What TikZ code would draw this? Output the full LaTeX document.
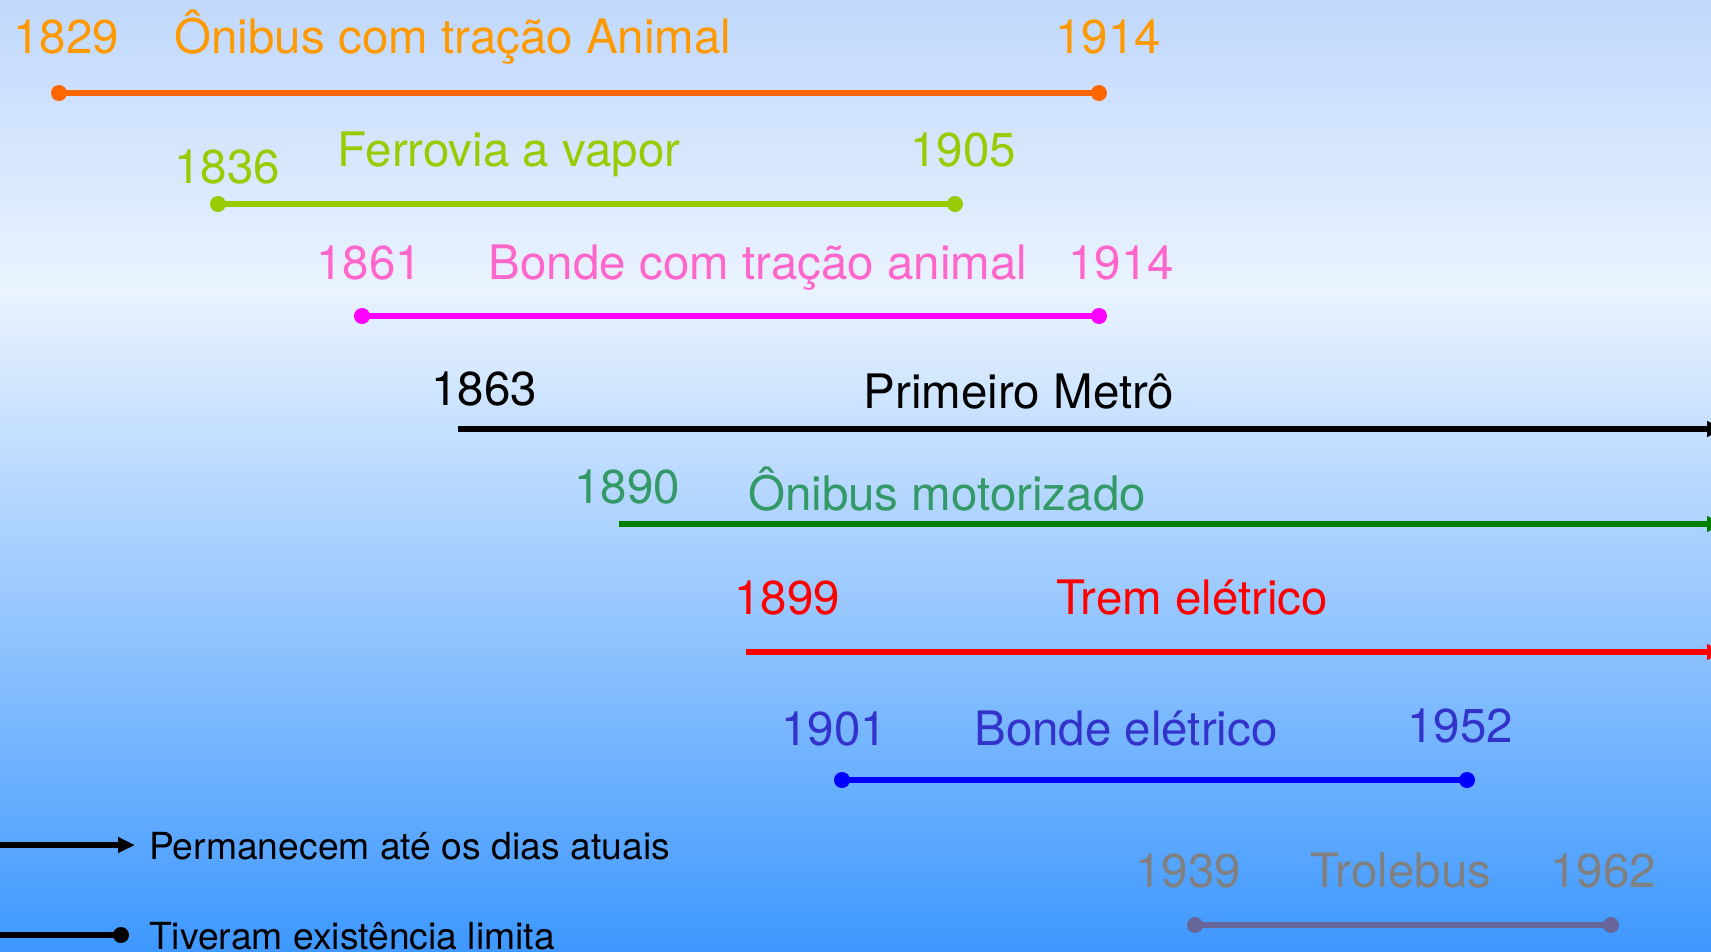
\documentclass[tikz,border=0pt]{standalone}
\usepackage{fontspec}
\setmainfont{TeX Gyre Heros}
\usetikzlibrary{arrows.meta}
\definecolor{bgtop}{RGB}{192,216,252}
\definecolor{bgmid}{RGB}{234,243,255}
\definecolor{bgbot}{RGB}{62,152,255}
\definecolor{oranget}{HTML}{FF9900}
\definecolor{orangel}{HTML}{FF6600}
\definecolor{lime}{HTML}{99CC00}
\definecolor{pinkt}{HTML}{FF66CC}
\definecolor{pinkl}{HTML}{FF00FF}
\definecolor{greent}{HTML}{339966}
\definecolor{greenl}{HTML}{008000}
\definecolor{redc}{HTML}{FF0000}
\definecolor{bluet}{HTML}{3333CC}
\definecolor{bluel}{HTML}{0000FF}
\definecolor{grayt}{HTML}{808080}
\definecolor{grayl}{HTML}{666699}
\begin{document}
\begin{tikzpicture}[x=1pt,y=-1pt,
  lbl/.style={anchor=base, inner sep=0pt, font=\fontsize{47.5}{52}\selectfont},
  leg/.style={anchor=base west, inner sep=0pt, font=\fontsize{37.3}{40}\selectfont},
  dotn/.style={circle, inner sep=0pt, minimum size=16pt},
  tl/.style={line width=5.5pt},
  fwd/.style={tl, -{Triangle[length=17pt,width=15pt]}}]
\useasboundingbox (0,0) rectangle (1711,951);
\clip (0,0) rectangle (1711,951);
\fill[top color=bgtop, bottom color=bgmid] (0,0) rectangle (1711,290);
\fill[top color=bgmid, bottom color=bgbot] (0,289.5) rectangle (1711,951);

% Row 1
\node[lbl, text=oranget] (y1a) at (66,53) {1829};
\node[lbl, text=oranget] (n1) at (453,53) {Ônibus com tração Animal};
\node[lbl, text=oranget] (y1b) at (1108,53) {1914};
\node[dotn, fill=orangel] (d1a) at (59,93) {};
\node[dotn, fill=orangel] (d1b) at (1099,93) {};
\draw[tl, orangel] (d1a.center) -- (d1b.center);

% Row 2
\node[lbl, text=lime] (y2a) at (227,183) {1836};
\node[lbl, text=lime] (n2) at (509,166) {Ferrovia a vapor};
\node[lbl, text=lime] (y2b) at (963,166) {1905};
\node[dotn, fill=lime] (d2a) at (218,204) {};
\node[dotn, fill=lime] (d2b) at (955,204) {};
\draw[tl, lime] (d2a.center) -- (d2b.center);

% Row 3
\node[lbl, text=pinkt] (y3a) at (369,279) {1861};
\node[lbl, text=pinkt] (n3) at (758,279) {Bonde com tração animal};
\node[lbl, text=pinkt] (y3b) at (1121,279) {1914};
\node[dotn, fill=pinkl] (d3a) at (362,316) {};
\node[dotn, fill=pinkl] (d3b) at (1099,316) {};
\draw[tl, pinkl] (d3a.center) -- (d3b.center);

% Row 4
\node[lbl, text=black] (y4a) at (484,405) {1863};
\node[lbl, text=black] (n4) at (1019,408) {Primeiro Metrô};
\coordinate (s4) at (458,429);
\coordinate (e4) at (1724,429);
\draw[fwd, black] (s4) -- (e4);

% Row 5
\node[lbl, text=greent] (y5a) at (627,503) {1890};
\node[lbl, text=greent] (n5) at (947,510) {Ônibus motorizado};
\coordinate (s5) at (619,524);
\coordinate (e5) at (1724,524);
\draw[fwd, greenl] (s5) -- (e5);

% Row 6
\node[lbl, text=redc] (y6a) at (787,614) {1899};
\node[lbl, text=redc] (n6) at (1192,614) {Trem elétrico};
\coordinate (s6) at (746,652);
\coordinate (e6) at (1724,652);
\draw[fwd, redc] (s6) -- (e6);

% Row 7
\node[lbl, text=bluet] (y7a) at (834,745) {1901};
\node[lbl, text=bluet] (n7) at (1126,745) {Bonde elétrico};
\node[lbl, text=bluet] (y7b) at (1460,742) {1952};
\node[dotn, fill=bluel] (d7a) at (842,780) {};
\node[dotn, fill=bluel] (d7b) at (1467,780) {};
\draw[tl, bluel] (d7a.center) -- (d7b.center);

% Row 8
\node[lbl, text=grayt] (y8a) at (1188,887) {1939};
\node[lbl, text=grayt] (n8) at (1401,887) {Trolebus};
\node[lbl, text=grayt] (y8b) at (1603,887) {1962};
\node[dotn, fill=grayl] (d8a) at (1195,925) {};
\node[dotn, fill=grayl] (d8b) at (1611,925) {};
\draw[tl, grayl] (d8a.center) -- (d8b.center);

% Legend
\coordinate (la) at (0,845);
\coordinate (lb) at (135,845);
\draw[fwd, black] (la) -- (lb);
\node[leg] (lt1) at (149,859) {Permanecem até os dias atuais};
\coordinate (lc) at (0,935);
\node[dotn, fill=black] (ld) at (121,935) {};
\draw[tl, black] (lc) -- (ld.center);
\node[leg] (lt2) at (149,949) {Tiveram existência limita};
\end{tikzpicture}
\end{document}
